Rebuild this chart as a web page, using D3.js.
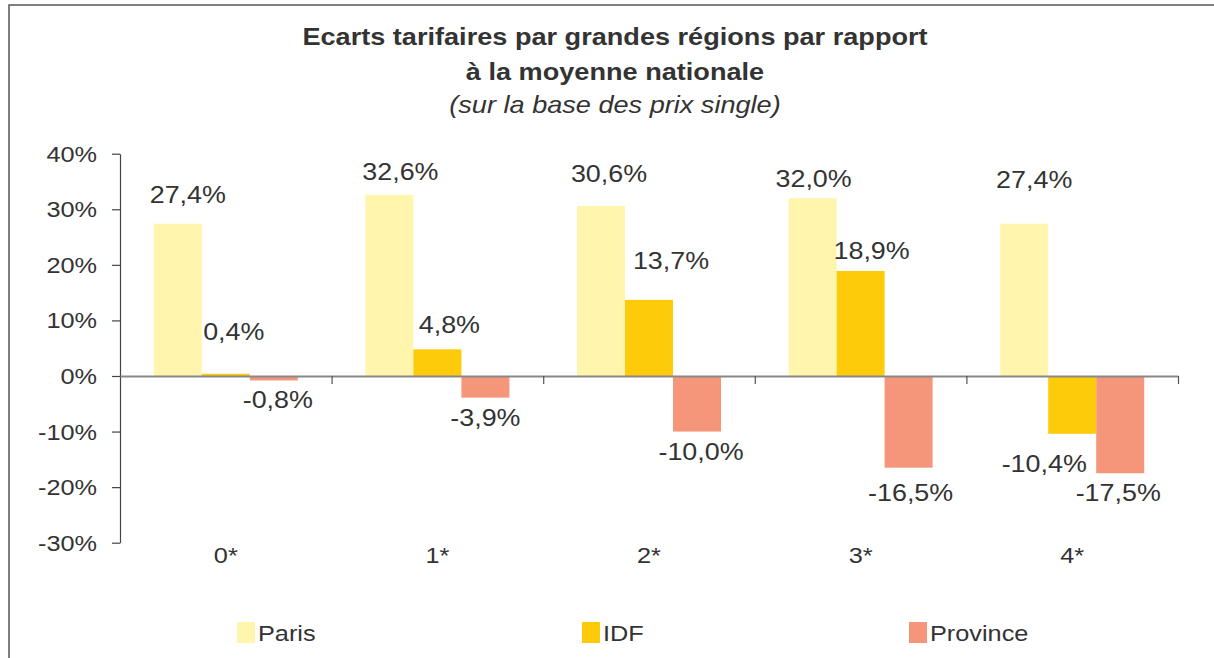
<!DOCTYPE html>
<html>
<head>
<meta charset="utf-8">
<script src="https://cdn.jsdelivr.net/npm/d3@7"></script>
<style>
  body { margin: 0; background: #fff; }
  svg { display: block; font-family: "Liberation Sans", Arial, sans-serif; }
</style>
</head>
<body>
<div id="chart"></div>
<script>
// data
var categories = ["0*", "1*", "2*", "3*", "4*"];
var seriesNames = ["Paris", "IDF", "Province"];
var paris = [27.4, 32.6, 30.6, 32.0, 27.4];
var idf = [0.4, 4.8, 13.7, 18.9, -10.4];
var province = [-0.8, -3.9, -10.0, -16.5, -17.5];
var yTicks = [-30, -20, -10, 0, 10, 20, 30, 40];

var colors = {Paris: "#FFF5AD", IDF: "#FDCB0A", Province: "#F5967A"};

// hand placed value labels (offset from bar centre / bar end)
var labelNudge = {
    Paris: [[10, -21], [11, -15], [8, -24], [1, -11], [10, -36]],
    IDF: [[8, -34], [12, -16], [22, -31], [11, -12], [-28, 38]],
    Province: [[4, 28], [0, 28], [4, 28], [2, 33], [-2, 28]]
};

var W = 1214, H = 658;
var sx = 1.15; // text in the original is a bit wide
var textColor = "#333";

var svg = d3.select("#chart").append("svg")
    .attr("width", W)
    .attr("height", H);

// frame (top + left only visible)
svg.append("path")
    .attr("d", "M9," + H + "V5H" + W)
    .attr("fill", "none")
    .attr("stroke", "#555")
    .attr("stroke-width", 1.5);

function wideText(g, x, y, str, k) {
    return g.append("text")
        .attr("transform", "translate(" + x + "," + y + ") scale(" + (k || sx) + ",1)")
        .attr("fill", textColor)
        .text(str);
}

// title
var cx = 615;
wideText(svg, cx, 45, "Ecarts tarifaires par grandes régions par rapport", 1.13)
    .attr("text-anchor", "middle").style("font-size", "24px").style("font-weight", "bold");
wideText(svg, cx, 80, "à la moyenne nationale", 1.13)
    .attr("text-anchor", "middle").style("font-size", "24px").style("font-weight", "bold");
wideText(svg, cx, 113, "(sur la base des prix single)", 1.13)
    .attr("text-anchor", "middle").style("font-size", "24px").style("font-style", "italic");

// scales
var left = 120, right = 1178;
var y = d3.scaleLinear().domain([-30, 40]).range([542.7, 153.7]);
var x0 = d3.scaleBand().domain(categories).range([left, right]);
var x1 = d3.scaleBand().domain(seriesNames).range([0, x0.bandwidth()]).paddingOuter(0.704);

var series = [
    {name: "Paris", values: paris},
    {name: "IDF", values: idf},
    {name: "Province", values: province}
];

// bars
series.forEach(function(s) {
    svg.append("g").selectAll("rect")
        .data(s.values)
        .enter().append("rect")
        .attr("x", function(d, i) { return x0(categories[i]) + x1(s.name); })
        .attr("y", function(d) { return y(Math.max(0, d)); })
        .attr("width", x1.bandwidth())
        .attr("height", function(d) { return Math.abs(y(d) - y(0)); })
        .attr("fill", colors[s.name]);
});

// y axis
var yAxis = svg.append("g")
    .attr("transform", "translate(" + left + ",0)")
    .call(d3.axisLeft(y).tickValues(yTicks).tickSize(8).tickSizeOuter(0)
        .tickFormat(function(d) { return d + "%"; }));
yAxis.select(".domain").attr("stroke", "#444").attr("stroke-width", 1.2);
yAxis.selectAll(".tick line").attr("stroke", "#444").attr("stroke-width", 1.2);
yAxis.selectAll(".tick text")
    .attr("x", -23 / sx)
    .attr("dy", "0.34em")
    .attr("transform", "scale(" + sx + ",1)")
    .attr("fill", textColor)
    .style("font-size", "22px")
    .style("font-family", "Liberation Sans, Arial, sans-serif");

// x axis at zero, ticks on category boundaries
var xb = d3.scaleLinear().domain([0, categories.length]).range([left, right]);
var xAxis = svg.append("g")
    .attr("transform", "translate(0," + y(0) + ")")
    .call(d3.axisBottom(xb).tickValues(d3.range(1, categories.length + 1)).tickSize(8).tickSizeOuter(0).tickFormat(""));
xAxis.select(".domain").attr("stroke", "#888").attr("stroke-width", 2);
xAxis.selectAll(".tick line").attr("stroke", "#555").attr("stroke-width", 1.2);

// category labels
categories.forEach(function(c) {
    wideText(svg, x0(c) + x0.bandwidth() / 2, 563, c)
        .attr("text-anchor", "middle").style("font-size", "22px");
});

// value labels
var fmt = d3.format(".1f");
series.forEach(function(s) {
    s.values.forEach(function(v, i) {
        var n = labelNudge[s.name][i];
        var bx = x0(categories[i]) + x1(s.name) + x1.bandwidth() / 2;
        wideText(svg, bx + n[0], y(v) + n[1], fmt(v).replace(".", ",").replace("−", "-") + "%", 1.12)
            .attr("text-anchor", "middle").style("font-size", "24px");
    });
});

// legend
var legendX = [237, 582, 909];
seriesNames.forEach(function(name, i) {
    svg.append("rect")
        .attr("x", legendX[i])
        .attr("y", 622)
        .attr("width", 18)
        .attr("height", 21)
        .attr("fill", colors[name]);
    wideText(svg, legendX[i] + 21, 641, name).style("font-size", "22px");
});
</script>
</body>
</html>
